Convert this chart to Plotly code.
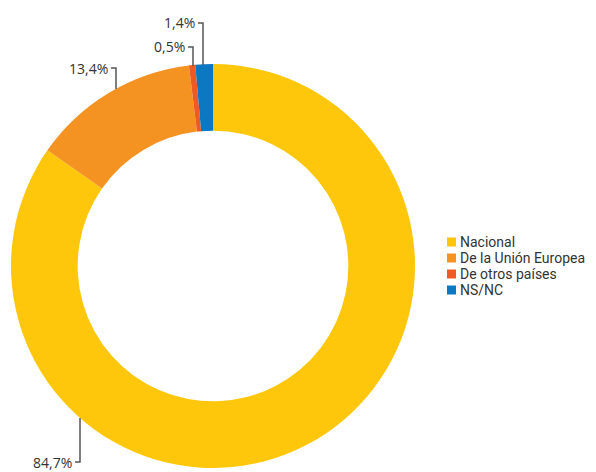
import plotly.graph_objects as go

categories = ["Nacional", "De la Unión Europea", "De otros países", "NS/NC"]
values = [84.7, 13.4, 0.5, 1.4]
value_labels = ["84,7%", "13,4%", "0,5%", "1,4%"]
colors = ["#FEC70B", "#F59322", "#EF5A24", "#0B78C1"]

W, H = 596, 472
# leader line layout (pixels): (x of vertical line, y of label, y where line meets ring)
leaders = [(80, 462, 418), (116, 68, 89), (193, 47, 66), (203, 23, 65)]
# legend layout (pixels)
leg_x, leg_y0, leg_dy, leg_sq = 447, 242, 16, 9

def px(x):
    return x / W

def py(y):
    return 1 - y / H

cx, cy, r = 213, 266, 202

fig = go.Figure()
fig.add_trace(go.Pie(
    labels=categories,
    values=values,
    marker=dict(colors=colors, line=dict(width=0)),
    hole=0.67,
    sort=False,
    direction="clockwise",
    rotation=0,
    textinfo="none",
    hoverinfo="label+percent",
    showlegend=False,
    domain=dict(x=[px(cx - r), px(cx + r)], y=[py(cy + r), py(cy - r)]),
))

shapes = []
annotations = []
for lab, (lx, ly, ey) in zip(value_labels, leaders):
    shapes.append(dict(
        type="path", xref="paper", yref="paper",
        path=f"M {px(lx-5)},{py(ly)} L {px(lx)},{py(ly)} L {px(lx)},{py(ey)}",
        line=dict(color="#555555", width=1.5),
    ))
    annotations.append(dict(
        x=px(lx - 6), y=py(ly), xref="paper", yref="paper",
        text=lab, showarrow=False, xanchor="right", yanchor="middle",
        font=dict(family="Open Sans", size=14, color="#333333"),
    ))

# legend
for i, (cat, col) in enumerate(zip(categories, colors)):
    yc = leg_y0 + i * leg_dy
    shapes.append(dict(
        type="rect", xref="paper", yref="paper",
        x0=px(leg_x), x1=px(leg_x + leg_sq),
        y0=py(yc + leg_sq / 2), y1=py(yc - leg_sq / 2),
        fillcolor=col, line=dict(width=0),
    ))
    annotations.append(dict(
        x=px(leg_x + leg_sq + 2), y=py(yc), xref="paper", yref="paper",
        text=cat, showarrow=False, xanchor="left", yanchor="middle",
        font=dict(family="Roboto", size=14, color="#333333"),
    ))

fig.update_layout(
    width=W, height=H,
    margin=dict(l=0, r=0, t=0, b=0, autoexpand=False),
    paper_bgcolor="white", plot_bgcolor="white",
    showlegend=False,
    shapes=shapes,
    annotations=annotations,
)

fig.write_html(
    "out.html",
    config={"displayModeBar": False},
    post_script="document.body.style.margin='0';document.body.style.overflow='hidden';",
)
